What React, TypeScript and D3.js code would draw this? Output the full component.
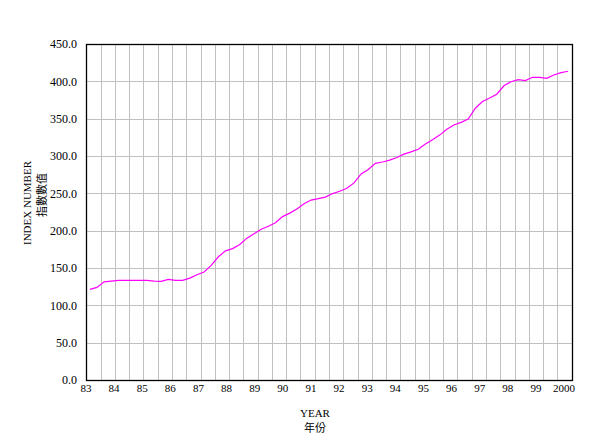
import { useEffect, useRef } from "react";
import * as d3 from "d3";

// quarterly index, 83 Q1 .. 99 Q4
const indexValues = [
  121.4, 124, 131.5, 132.5, 133.5, 133.5, 133.5, 133.5,
  133.5, 132.5, 132.1, 134.8, 133.5, 133.5, 136.5, 141,
  144.6, 153.5, 165, 173, 176, 181.5, 190, 196,
  202, 206, 210.5, 218.8, 223.5, 229, 236, 241,
  242.8, 245, 249.7, 252.8, 256.7, 264, 276, 282,
  290.2, 292, 294.5, 298, 302.5, 305.5, 309, 316,
  321.8, 328, 335.8, 341.5, 345, 349.5, 364, 373,
  377.6, 382.8, 394, 399.5, 402.3, 400.9, 405.4, 405.4,
  404, 408.5, 411.6, 413.5,
];
const yearLabels = ["83", "84", "85", "86", "87", "88", "89", "90", "91", "92", "93", "94", "95", "96", "97", "98", "99", "2000"];
const yTicks = [0, 50, 100, 150, 200, 250, 300, 350, 400, 450];

const W = 592;
const H = 447;
const margin = { left: 86.3, top: 44, right: 20.3, bottom: 67 };
const serif = "'Liberation Serif', 'Times New Roman', serif";
const cjk = "'Noto Sans CJK TC', 'Noto Sans CJK SC', sans-serif";

export default function App() {
  const svgRef = useRef<SVGSVGElement>(null);

  useEffect(() => {
    if (!svgRef.current) return;
    const svg = d3.select(svgRef.current);
    svg.selectAll("*").remove();

    const x0 = margin.left;
    const x1 = W - margin.right;
    const y0 = H - margin.bottom;
    const y1 = margin.top;

    const x = d3.scaleLinear().domain([0, indexValues.length]).range([x0, x1]);
    const y = d3.scaleLinear().domain([0, 450]).range([y0, y1]);
    const xLabel = d3.scalePoint<string>().domain(yearLabels).range([86, 564]);

    // vertical grid every half year
    const vgrid = d3.range(2, indexValues.length, 2);
    svg.append("g")
      .selectAll("line")
      .data(vgrid)
      .join("line")
      .attr("x1", (d) => Math.round(x(d)) + 0.5)
      .attr("x2", (d) => Math.round(x(d)) + 0.5)
      .attr("y1", y1)
      .attr("y2", y0)
      .attr("stroke", "#c0c0c0")
      .attr("stroke-width", 1);

    svg.append("g")
      .selectAll("line")
      .data(yTicks.slice(1, -1))
      .join("line")
      .attr("x1", x0)
      .attr("x2", x1)
      .attr("y1", (d) => Math.round(y(d)) + 0.5)
      .attr("y2", (d) => Math.round(y(d)) + 0.5)
      .attr("stroke", "#c0c0c0")
      .attr("stroke-width", 1);

    // frame
    svg.append("rect")
      .attr("x", Math.round(x0) + 0.5)
      .attr("y", y1 + 0.5)
      .attr("width", Math.round(x1) - Math.round(x0))
      .attr("height", y0 - y1)
      .attr("fill", "none")
      .attr("stroke", "#000")
      .attr("stroke-width", 1.3);

    const line = d3.line<number>()
      .x((_, i) => x(i + 0.5))
      .y((d) => y(d));

    svg.append("path")
      .datum(indexValues)
      .attr("d", line)
      .attr("fill", "none")
      .attr("stroke", "#ff00ff")
      .attr("stroke-width", 1.2);

    // y tick labels
    svg.append("g")
      .selectAll("text")
      .data(yTicks)
      .join("text")
      .attr("x", 77)
      .attr("y", (d) => y(d))
      .attr("dy", "0.35em")
      .attr("text-anchor", "end")
      .attr("font-family", serif)
      .attr("font-size", 12)
      .text((d) => d.toFixed(1));

    // x tick labels
    svg.append("g")
      .selectAll("text")
      .data(yearLabels)
      .join("text")
      .attr("x", (d) => xLabel(d)!)
      .attr("y", 388)
      .attr("dy", "0.35em")
      .attr("text-anchor", "middle")
      .attr("font-family", serif)
      .attr("font-size", 11)
      .text((d) => d);

    // axis titles
    svg.append("text")
      .attr("transform", "translate(27,203) rotate(-90)")
      .attr("dy", "0.35em")
      .attr("text-anchor", "middle")
      .attr("font-family", serif)
      .attr("font-size", 11)
      .text("INDEX NUMBER");
    svg.append("text")
      .attr("transform", "translate(42,195) rotate(-90)")
      .attr("dy", "0.35em")
      .attr("text-anchor", "middle")
      .attr("font-family", cjk)
      .attr("font-size", 11)
      .text("指數數值");

    svg.append("text")
      .attr("x", 315)
      .attr("y", 413)
      .attr("dy", "0.35em")
      .attr("text-anchor", "middle")
      .attr("font-family", serif)
      .attr("font-size", 11)
      .text("YEAR");
    svg.append("text")
      .attr("x", 315)
      .attr("y", 428)
      .attr("dy", "0.35em")
      .attr("text-anchor", "middle")
      .attr("font-family", cjk)
      .attr("font-size", 11)
      .text("年份");
  }, []);

  return (
    <svg
      ref={svgRef}
      width={W}
      height={H}
      style={{ position: "absolute", left: 0, top: 0, background: "#fff" }}
    />
  );
}
